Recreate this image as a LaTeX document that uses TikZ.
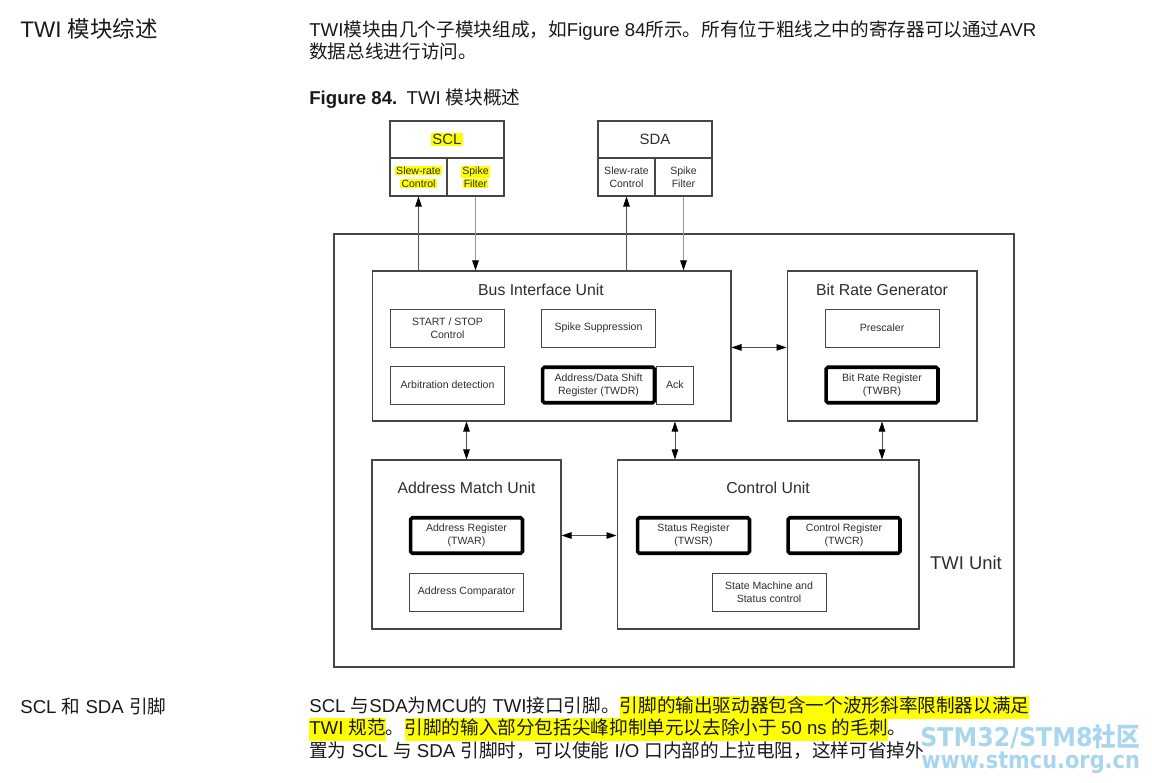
\documentclass[tikz,border=0pt]{standalone}
\usepackage{fontspec}
\setmainfont{Liberation Sans}
\newfontfamily\cjk{Noto Sans CJK SC}
\newfontfamily\wmfont{DejaVu Sans}
\usepackage{xcolor}
\usepackage{graphicx}
\usetikzlibrary{arrows.meta,positioning}

\definecolor{boxline}{RGB}{70,70,70}
\definecolor{arrline}{RGB}{80,80,80}
\definecolor{spikeline}{RGB}{150,150,150}
\definecolor{hlyellow}{RGB}{255,255,0}
\definecolor{wmblue}{RGB}{168,214,238}
\definecolor{txt}{RGB}{25,25,25}
\definecolor{boxtxt}{RGB}{45,45,45}

% yellow marker behind text
\newcommand{\hl}[1]{{\setlength{\fboxsep}{0pt}\colorbox{hlyellow}{\strut #1}}}
\newcommand{\hlt}[1]{{\setlength{\fboxsep}{0.6pt}\colorbox{hlyellow}{#1}}}

\begin{document}
\begin{tikzpicture}[
    x=0.02cm, y=-0.02cm,
    unit/.style={rectangle, draw=boxline, line width=0.6pt},
    unittitle/.style={inner sep=0pt, font=\fontsize{9}{11}\selectfont, text=boxtxt},
    subbox/.style={rectangle, draw=boxline, line width=0.5pt, minimum width=2.28cm, minimum height=0.76cm, align=center, inner sep=1pt, font=\fontsize{6}{7.4}\selectfont, text=boxtxt},
    regbox/.style={subbox, draw=black, line width=2pt, rounded corners=1pt, minimum width=2.24cm, minimum height=0.71cm},
    pinname/.style={rectangle, draw=boxline, line width=0.6pt, minimum width=2.28cm, minimum height=0.74cm, font=\fontsize{8.5}{10}\selectfont, text=boxtxt},
    pincell/.style={subbox, line width=0.6pt, minimum width=1.14cm},
    arrow/.style={draw=arrline, line width=0.5pt, -{Triangle[length=2mm,width=1.3mm,color=black]}},
    both/.style={arrow, {Triangle[length=2mm,width=1.3mm,color=black]}-{Triangle[length=2mm,width=1.3mm,color=black]}},
    body/.style={anchor=base west, inner sep=0pt, font=\fontsize{10.6}{12.5}\selectfont, text=txt},
    wmark/.style={anchor=base west, inner sep=0pt, text=wmblue, font={\fontsize{14.7}{16}\wmfont\bfseries}}
]
\useasboundingbox (0,0) rectangle (1152,783);

% page text
\node[body, font=\fontsize{12.8}{15}\selectfont] (sechead) at (20,37.5) {TWI {\cjk 模块综述}};
\node[body] (introa) at (309,37) {TWI{\cjk 模块由几个子模块组成，如}Figure 84{\cjk 所示。所有位于粗线之中的寄存器可以通过}AVR};
\node[body] (introb) at (309,59) {\cjk 数据总线进行访问。};
\node[body] (figcap) at (309,105) {\textbf{Figure 84.}\hspace{0.5em}TWI {\cjk 模块概述}};

% pins
\node[pinname] (sclname) at (447,139.5) {\hlt{SCL}};
\node[pincell] (sclslew) at (418.5,177) {\hlt{Slew-rate}\\\hlt{Control}};
\node[pincell] (sclspike) at (475.5,177) {\hlt{Spike}\\\hlt{Filter}};
\node[pinname] (sdaname) at (655,139.5) {SDA};
\node[pincell] (sdaslew) at (626.5,177) {Slew-rate\\Control};
\node[pincell] (sdaspike) at (683.5,177) {Spike\\Filter};

% TWI unit
\node[unit, line width=0.8pt, minimum width=13.6cm, minimum height=8.66cm] (twi) at (674,450.5) {};
\node[inner sep=0pt, font=\fontsize{10.5}{12}\selectfont, text=boxtxt] (twilabel) at (966,563) {TWI Unit};

% bus interface unit
\node[unit, minimum width=7.18cm, minimum height=3cm] (biu) at (551.5,346) {};
\node[unittitle] (biutitle) at (541,290) {Bus Interface Unit};
\node[subbox] (startstop) at (447.5,328) {START / STOP\\Control};
\node[subbox] (spikesup) at (598.5,328) {Spike Suppression};
\node[subbox] (arbit) at (447.5,385) {Arbitration detection};
\node[subbox, minimum width=0.74cm, anchor=west] (ack) at (656,385) {Ack};
\node[regbox] (twdr) at (598.5,385) {Address/Data Shift\\Register (TWDR)};

% bit rate generator
\node[unit, minimum width=3.8cm, minimum height=3cm] (brg) at (882,346) {};
\node[unittitle] (brgtitle) at (882,290) {Bit Rate Generator};
\node[subbox] (prescaler) at (882,328) {Prescaler};
\node[regbox] (twbr) at (882,385) {Bit Rate Register\\(TWBR)};

% address match unit
\node[unit, minimum width=3.78cm, minimum height=3.38cm] (amu) at (466.5,544.5) {};
\node[unittitle] (amutitle) at (466.5,488) {Address Match Unit};
\node[regbox] (twar) at (466.5,535.5) {Address Register\\(TWAR)};
\node[subbox] (addrcomp) at (466.5,592) {Address Comparator};

% control unit
\node[unit, minimum width=6.04cm, minimum height=3.38cm] (cu) at (768,544.5) {};
\node[unittitle] (cutitle) at (768,488) {Control Unit};
\node[regbox] (twsr) at (693.5,535.5) {Status Register\\(TWSR)};
\node[regbox] (twcr) at (844,535.5) {Control Register\\(TWCR)};
\node[subbox] (statem) at (769,592) {State Machine and\\Status control};

% pin connections
\draw[arrow] (biu.north -| sclslew.south) -- (sclslew.south);
\draw[arrow, draw=spikeline] (sclspike.south) -- (sclspike.south |- biu.north);
\draw[arrow] (biu.north -| sdaslew.south) -- (sdaslew.south);
\draw[arrow, draw=spikeline] (sdaspike.south) -- (sdaspike.south |- biu.north);

% internal buses
\draw[both] (biu.east |- prescaler.south) -- (brg.west |- prescaler.south);
\draw[both] (biu.south -| amu.north) -- (amu.north);
\draw[both] (biu.south -| ack.south) -- (ack.south |- cu.north);
\draw[both] (brg.south) -- (brg.south |- cu.north);
\draw[both] (amu.east |- twar.east) -- (cu.west |- twar.east);

% pin description
\node[body] (pinhead) at (20,713) {SCL {\cjk 和} SDA {\cjk 引脚}};
\node[body] (pina) at (309,712) {SCL {\cjk 与}SDA{\cjk 为}MCU{\cjk 的} TWI{\cjk 接口引脚。}\hl{\cjk 引脚的输出驱动器包含一个波形斜率限制器以满足}};
\node[body] (pinb) at (309,734) {\hl{TWI {\cjk 规范}}{\cjk 。}\hl{\cjk 引脚的输入部分包括尖峰抑制单元以去除小于 \rmfamily 50 ns \cjk 的毛刺}{\cjk 。}};
\node[body] (pinc) at (309,757) {{\cjk 置为} SCL {\cjk 与} SDA {\cjk 引脚时，可以使能} I/O {\cjk 口内部的上拉电阻，这样可省掉外}};

% watermark
\node[wmark] (wmname) at (920,746) {\scalebox{0.92}[1]{STM32/STM8{\cjk\bfseries 社区}}};
\node[wmark, font={\fontsize{13.5}{15}\wmfont\bfseries}] (wmurl) at (921,768) {\scalebox{0.88}[1]{www.stmcu.org.cn}};
\end{tikzpicture}
\end{document}
